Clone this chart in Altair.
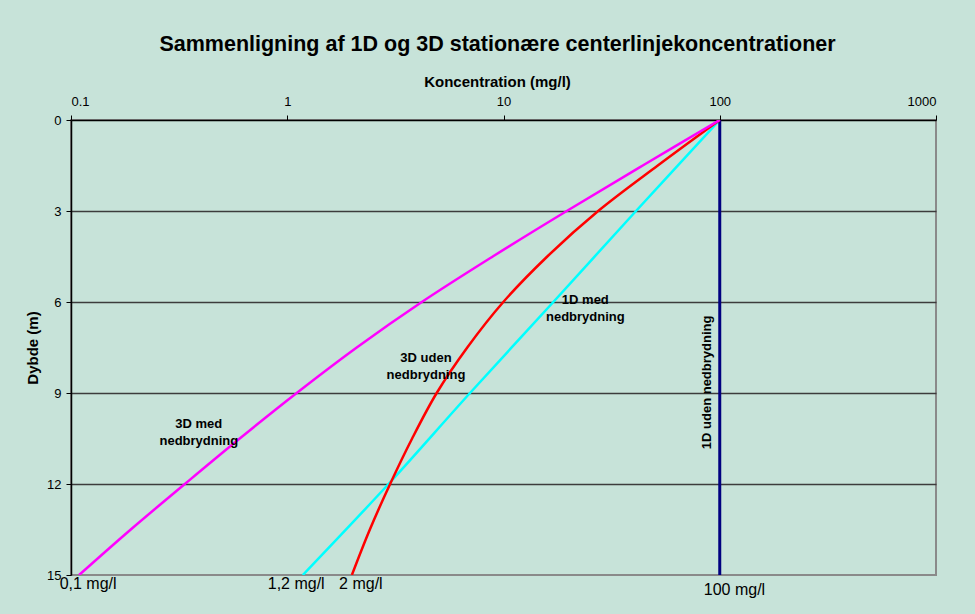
import altair as alt
import pandas as pd

# ---- data ----
depth = [0, 1.5, 3, 4.5, 6, 7.5, 9, 10.5, 12, 13.5, 15]
conc_3d_med = [100, 44.06, 19.61, 8.92, 4.19, 2.096, 1.106, 0.603, 0.336, 0.189, 0.109]
conc_3d_uden = [100, 51.7, 27.4, 15.94, 9.98, 6.8, 4.91, 3.78, 2.99, 2.41, 1.99]
depth_1d = [0, 3, 6, 9, 12, 15]
conc_1d_med = [100, 41, 17, 7, 2.94, 1.18]
depth_1d_uden = [0, 15]
conc_1d_uden = [100, 100]

x_ticks = [0.1, 1, 10, 100, 1000]
y_ticks = [0, 3, 6, 9, 12, 15]

# annotation texts and anchor positions (concentration, depth)
ann_text = ["3D  med\nnedbrydning", "3D  uden\nnedbrydning", "1D  med\nnedbrydning"]
ann_conc = [0.39, 4.38, 23.9]
ann_depth = [10.02, 7.85, 5.92]

rot_text = ["1D  uden nedbrydning"]
rot_conc = [87.3]
rot_depth = [8.65]

bottom_text = ["0,1 mg/l", "1,2 mg/l", "2 mg/l"]
bottom_conc = [0.12, 1.1, 2.19]
bottom_depth = [15, 15, 15]
bottom2_text = ["100 mg/l"]
bottom2_conc = [117]
bottom2_depth = [15]

FONT = "Liberation Sans"
BG = "#c7e3d9"

xscale = alt.Scale(type="log", domain=[0.1, 1000], nice=False)
yscale = alt.Scale(domain=[0, 15], reverse=True, nice=False)


def series(conc, dep, color, width):
    df = pd.DataFrame({"conc": conc, "depth": dep})
    return alt.Chart(df).mark_line(
        color=color, strokeWidth=width, interpolate="catmull-rom", clip=True
    ).encode(
        x=alt.X("conc:Q", scale=xscale,
                axis=alt.Axis(orient="top", values=x_ticks, format="~g",
                              title="Koncentration (mg/l)", grid=False,
                              domainColor="black", domainWidth=1.5,
                              tickColor="black", tickSize=5,
                              labelFontSize=13, labelPadding=7,
                              titleFontSize=15, titleFontWeight="bold",
                              titlePadding=6, titleX=426, labelColor="black",
                              titleColor="black", labelFont=FONT, titleFont=FONT)),
        y=alt.Y("depth:Q", scale=yscale,
                axis=alt.Axis(values=y_ticks, title="Dybde (m)",
                              grid=True,
                              gridColor={"condition": {"test": "datum.value === 15 || datum.value === 0",
                                                       "value": "rgba(0,0,0,0)"},
                                         "value": "#3c3c3c"},
                              gridWidth=1.5,
                              domainColor="black", domainWidth=1.5,
                              tickColor="black", tickSize=5,
                              labelFontSize=13, labelPadding=5,
                              titleFontSize=15, titleFontWeight="bold",
                              titlePadding=6, labelColor="black",
                              titleColor="black", labelFont=FONT, titleFont=FONT)),
        order="depth:Q",
    )


cyan = series(conc_1d_med, depth_1d, "#00ffff", 2.5)
navy = series(conc_1d_uden, depth_1d_uden, "#000080", 3)
red = series(conc_3d_uden, depth, "#ff0000", 2.5)
magenta = series(conc_3d_med, depth, "#ff00ff", 2.5)

ann_df = pd.DataFrame({"t": ann_text, "conc": ann_conc, "depth": ann_depth})
ann = alt.Chart(ann_df).mark_text(
    font=FONT, fontSize=13, fontWeight="bold", color="black",
    lineBreak="\n", lineHeight=17, align="center", baseline="middle"
).encode(x=alt.X("conc:Q", scale=xscale), y=alt.Y("depth:Q", scale=yscale), text="t:N")

rot_df = pd.DataFrame({"t": rot_text, "conc": rot_conc, "depth": rot_depth})
rot = alt.Chart(rot_df).mark_text(
    font=FONT, fontSize=13, fontWeight="bold", color="black",
    angle=270, align="center", baseline="middle"
).encode(x=alt.X("conc:Q", scale=xscale), y=alt.Y("depth:Q", scale=yscale), text="t:N")

bot_df = pd.DataFrame({"t": bottom_text, "conc": bottom_conc, "depth": bottom_depth})
bot = alt.Chart(bot_df).mark_text(
    font=FONT, fontSize=16, color="black", align="center", baseline="middle", dy=9
).encode(x=alt.X("conc:Q", scale=xscale), y=alt.Y("depth:Q", scale=yscale), text="t:N")

bot2_df = pd.DataFrame({"t": bottom2_text, "conc": bottom2_conc, "depth": bottom2_depth})
bot2 = alt.Chart(bot2_df).mark_text(
    font=FONT, fontSize=16, color="black", align="center", baseline="middle", dy=15
).encode(x=alt.X("conc:Q", scale=xscale), y=alt.Y("depth:Q", scale=yscale), text="t:N")

chart = alt.layer(cyan, navy, red, magenta, ann, rot, bot, bot2).properties(
    width=865,
    height=455,
    autosize=alt.AutoSizeParams(type="none"),
    padding={"left": 71, "top": 120, "right": 39, "bottom": 39},
    background=BG,
    title=alt.TitleParams(
        "Sammenligning af 1D og 3D stationære centerlinjekoncentrationer",
        font=FONT, fontSize=21.5, fontWeight="bold", color="black",
        anchor="middle", offset=19, dx=-6,
    ),
).configure_view(
    fill=BG, stroke="#8a8a8a", strokeWidth=2
)

chart.save("out.html", embed_options={"renderer": "svg", "actions": False})
